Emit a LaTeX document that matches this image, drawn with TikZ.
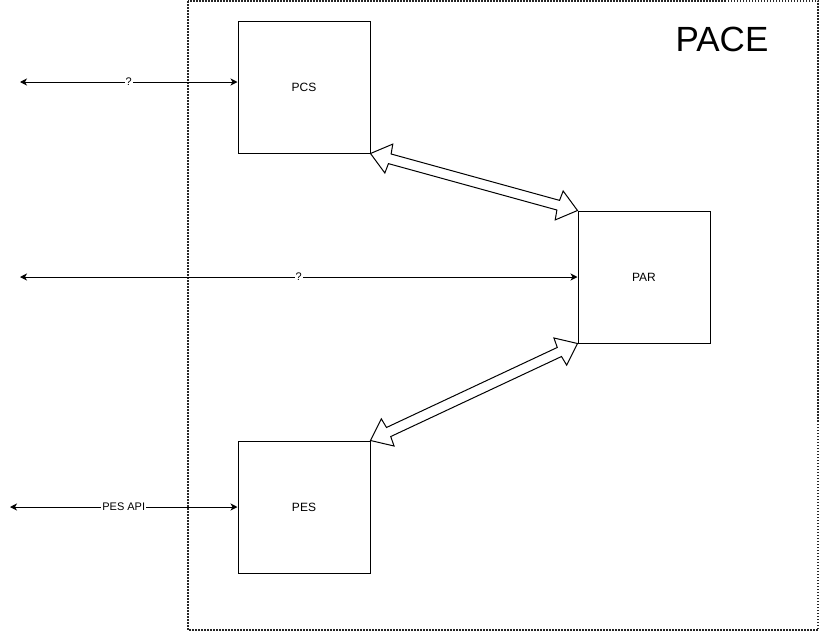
\documentclass[tikz,border=0pt]{standalone}
\usepackage{fontspec}
\setmainfont{Liberation Sans}
\usetikzlibrary{arrows.meta,positioning,calc}

\tikzset{
  block/.style={draw, line width=1pt, minimum width=132pt, minimum height=132pt, font=\fontsize{12}{14}\selectfont},
  frame/.style={draw=black!85, line width=1.5pt, dash pattern=on 1.5pt off 1.5pt},
  link/.style={{Stealth[length=7pt,width=7pt,inset=2pt]}-{Stealth[length=7pt,width=7pt,inset=2pt]}, line width=1pt},
  linklabel/.style={midway, fill=white, inner sep=1pt, font=\fontsize{11}{13}\selectfont},
  flexarrow/.style={draw, fill=white, line width=1pt, line join=miter},
}

% hollow double-headed arrow between two points
\newcommand{\flexlink}[2]{%
  \path[flexarrow] (#1)
    -- ($($(#1)!19pt!(#2)$)!15pt!90:(#2)$)
    -- ($($(#1)!20pt!(#2)$)!5pt!90:(#2)$)
    -- ($($(#2)!20pt!(#1)$)!5pt!-90:(#1)$)
    -- ($($(#2)!19pt!(#1)$)!15pt!-90:(#1)$)
    -- (#2)
    -- ($($(#2)!19pt!(#1)$)!15pt!90:(#1)$)
    -- ($($(#2)!20pt!(#1)$)!5pt!90:(#1)$)
    -- ($($(#1)!20pt!(#2)$)!5pt!-90:(#2)$)
    -- ($($(#1)!19pt!(#2)$)!15pt!-90:(#2)$)
    -- cycle;}

\begin{document}
\begin{tikzpicture}[x=1pt,y=-1pt]
\useasboundingbox (0,0) rectangle (820,632);

% PACE container
\draw[frame] (188,1) rectangle (818,630);
\node[font=\fontsize{35}{40}\selectfont] (pace) at (722,39) {PACE};

% components
\node[block] (pcs) at (304,87) {PCS};
\node[block] (par) at (644,277) {PAR};
\node[block] (pes) at (304,507) {PES};

% external interfaces
\coordinate (pcsext) at (20,82);
\coordinate (parext) at (20,277);
\coordinate (pesext) at (10,507);
\draw[link] (pcsext) -- (pcsext -| pcs.west) node[linklabel] {?};
\draw[link] (parext) -- (par.west) node[linklabel] {?};
\draw[link] (pesext) -- (pes.west) node[linklabel] {PES API};

% internal links
\flexlink{pcs.south east}{par.north west}
\flexlink{par.south west}{pes.north east}
\end{tikzpicture}
\end{document}
